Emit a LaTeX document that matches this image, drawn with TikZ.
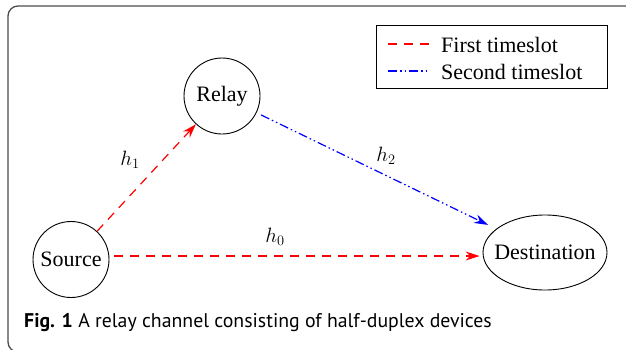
\documentclass[tikz,border=0pt]{standalone}
\usepackage{fontspec}
\setmainfont{Liberation Serif}
\newfontfamily\capfont{PT Sans}
\usetikzlibrary{arrows.meta,shapes.geometric}
\begin{document}
\begin{tikzpicture}[x=1pt,y=-1pt,
  dev/.style={draw, circle, minimum size=76pt, inner sep=0pt, line width=0.9pt, font=\fontsize{22}{25}\selectfont},
  firstln/.style={red, line width=1.2pt, dash pattern=on 9pt off 7pt},
  secondln/.style={blue, line width=1.2pt, dash pattern=on 9pt off 3pt on 1.5pt off 3pt on 1.5pt off 3pt},
  tip/.style={-{Stealth[length=14pt,width=9pt]}},
  lbl/.style={font=\fontsize{22}{25}\selectfont, inner sep=0pt},
  legtxt/.style={anchor=west, font=\fontsize{22}{25}\selectfont, inner sep=0pt}]
\useasboundingbox (0,0) rectangle (626,349);
\begin{scope}
\clip (0,0) rectangle (626,349);
\draw[black!70, line width=1.3pt, rounded corners=10pt] (8,6) rectangle (660,352);
\end{scope}
% legend
\node[draw, line width=0.9pt, minimum width=231pt, minimum height=63pt, inner sep=0pt] (leg) at (491.5,57) {};
\coordinate (r1) at (388,44);
\coordinate (r2) at (429,44);
\coordinate (b1) at (388,71);
\coordinate (b2) at (429,71);
\draw[firstln] (r1) -- (r2);
\draw[secondln] (b1) -- (b2);
\node[legtxt] (t1) at (441,45) {First timeslot};
\node[legtxt] (t2) at (441,72) {Second timeslot};
% devices
\node[dev] (relay) at (222,96) {Relay};
\node[dev] (src) at (71,259.5) {Source};
\node[draw, ellipse, line width=0.9pt, inner xsep=-8.5pt, inner ysep=0pt, minimum width=124pt, minimum height=75pt, font=\fontsize{22}{25}\selectfont] (dst) at (545,252.5) {Destination};
% links
\draw[firstln, tip] (src) -- (relay);
\draw[firstln, tip] ([xshift=5pt,yshift=3.5pt]src.east) -- ([xshift=-3pt,yshift=-3.5pt]dst.west);
\draw[secondln, tip, shorten <=5pt, shorten >=9pt] (relay) -- (dst);
\node[lbl] (h1) at (130,160) {$h_1$};
\node[lbl] (h2) at (386,156) {$h_2$};
\node[lbl] (h0) at (275,237) {$h_0$};
% caption
\node[anchor=base west, inner sep=0pt, font=\capfont\fontsize{19.8}{23}\selectfont] (cap) at (24,327) {\textbf{Fig. 1} A relay channel consisting of half-duplex devices};
\end{tikzpicture}
\end{document}
